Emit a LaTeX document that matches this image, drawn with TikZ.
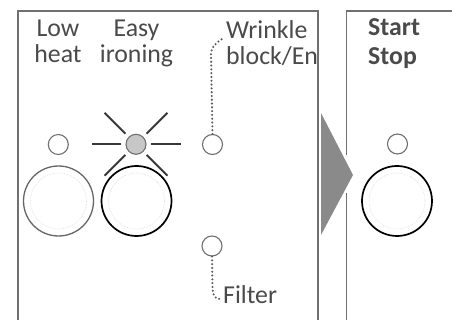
\documentclass[tikz,border=0pt]{standalone}
\usepackage{fontspec}
\setmainfont{Carlito}
\usetikzlibrary{calc}
\definecolor{inkgray}{HTML}{4A4A4A}
\definecolor{framegray}{HTML}{707070}
\definecolor{arrowgray}{HTML}{8A8A8A}

\tikzset{
	frame/.style={framegray,line width=1.3pt},
	paneltext/.style={inkgray,inner sep=0pt,font=\fontsize{25.8}{26}\selectfont},
	led/.style={circle,draw=framegray,line width=1.1pt,minimum size=20pt,inner sep=0pt},
	button/.style={circle,draw=black,line width=1.7pt,minimum size=70pt,inner sep=0pt},
	innerring/.style={black!15,line width=0.6pt,densely dotted},
	ray/.style={black!78,line width=2pt},
	wire/.style={black!65,line width=2.3pt,line cap=round,dash pattern=on 0pt off 3.8pt}
}

\begin{document}
\begin{tikzpicture}[x=1pt,y=-1pt]
		
		% Canvas
		\useasboundingbox (0,0) rectangle (452,320);
		
		% The two panels
		\draw[frame] (18,320) -- (18,11) -- (318,11) -- (318,320);
		\draw[frame] (452,11) -- (346.7,11) -- (346.7,155);
		\draw[frame] (346.7,193) -- (346.7,320);
		
		% Arrow between the panels
		\fill[arrowgray] (321,113) -- (353,175) -- (321,235) -- cycle;
		
		% Labels (base = last line)
		\node[paneltext,align=center,anchor=base] (lowtxt) at (58,63) {Low\\heat};
		\node[paneltext,align=center,anchor=base] (easytxt) at (136.5,63) {Easy\\ironing};
		\node[paneltext,align=left,anchor=base west] (wrinkletxt) at (226,64.5) {Wrinkle\\block/En};
		\node[paneltext,font=\fontsize{25.8}{28.5}\selectfont\bfseries,align=left,anchor=base west] (starttxt) at (368,64.5) {Start\\Stop};
		\node[paneltext,anchor=base west] (filtertxt) at (223,303) {Filter};
		
		% Indicator lights
		\node[led] (lowled) at (58.3,144.5) {};
		\node[led,fill=black!22] (easyled) at (136,144.3) {};
		\node[led] (wrinkleled) at (212.5,144.5) {};
		\node[led] (filterled) at (212,246) {};
		\node[led] (startled) at (397.5,144) {};
		
		% Rays round the lit light
		\foreach \a in {0,45,135,180,225,315}
		\draw[ray] ($(easyled.center)+(\a:15)$) -- ($(easyled.center)+(\a:44.5)$);
		
		% Buttons
		\node[button,draw=black!60,line width=1.3pt] (lowbtn) at (58.5,201) {};
		\node[button] (easybtn) at (136.5,201) {};
		\node[button] (startbtn) at (397,201) {};
		\foreach \b in {lowbtn,easybtn,startbtn}
		\draw[innerring] (\b.center) circle[radius=28];
		
		% Dotted leaders to the text
		\coordinate (wbend) at (211,54);
		\coordinate (wend) at (222,39);
		\draw[wire] (wrinkleled.north) -- (wbend) to[out=90,in=215] (wend);
		\coordinate (fbend) at (212.5,289);
		\coordinate (fend) at (220,299);
		\draw[wire] (filterled.south) -- (fbend) to[out=-90,in=190] (fend);
		
	\end{tikzpicture}
\end{document}
